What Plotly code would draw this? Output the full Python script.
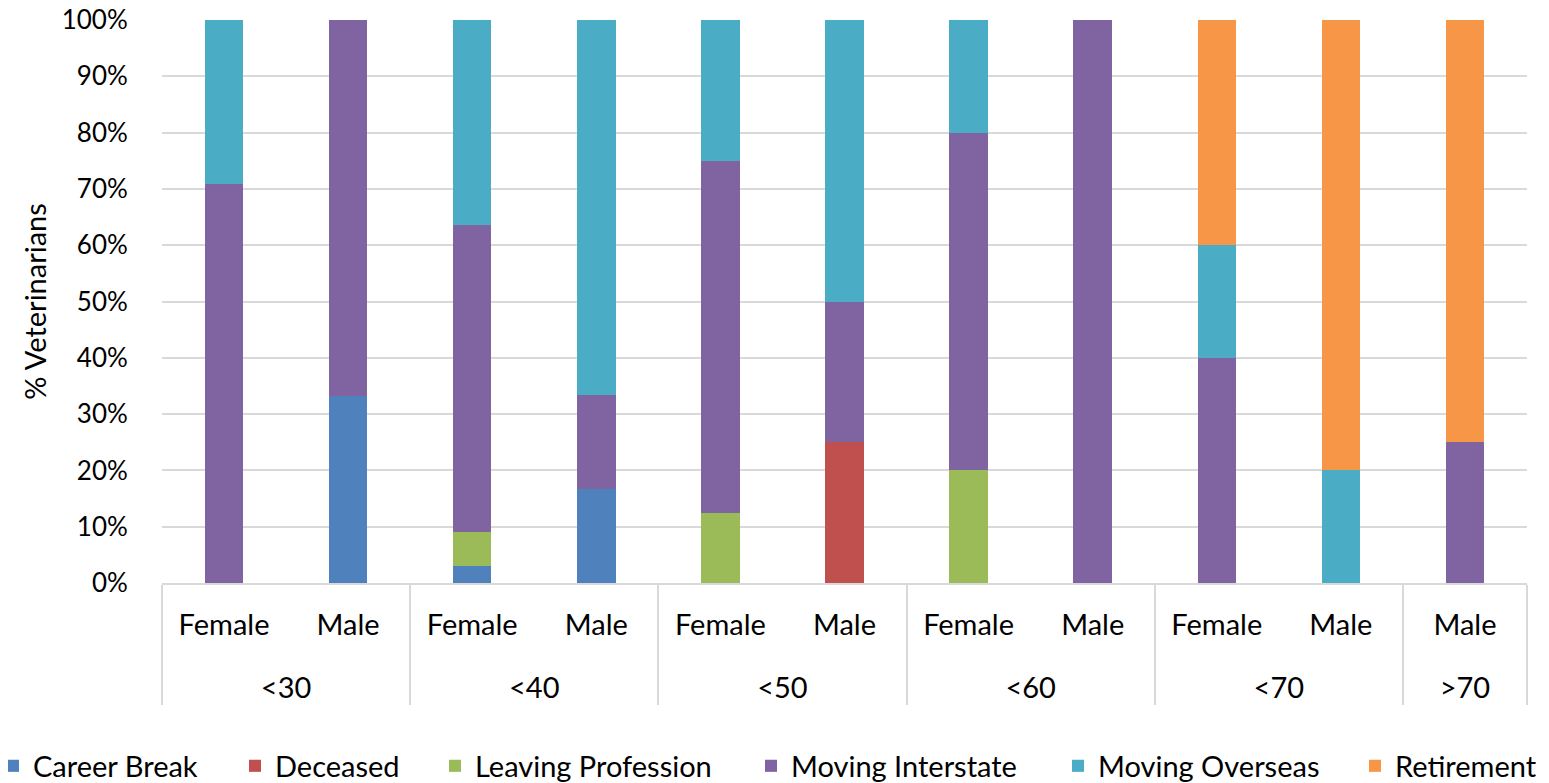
import plotly.graph_objects as go

age_groups = ["<30", "<30", "<40", "<40", "<50", "<50", "<60", "<60", "<70", "<70", ">70"]
genders = ["Female", "Male", "Female", "Male", "Female", "Male", "Female", "Male", "Female", "Male", "Male"]

career_break = [0, 33.3, 3.0, 16.7, 0, 0, 0, 0, 0, 0, 0]
deceased = [0, 0, 0, 0, 0, 25.0, 0, 0, 0, 0, 0]
leaving_profession = [0, 0, 6.1, 0, 12.5, 0, 20.0, 0, 0, 0, 0]
moving_interstate = [70.8, 66.7, 54.5, 16.7, 62.5, 25.0, 60.0, 100.0, 40.0, 0, 25.0]
moving_overseas = [29.2, 0, 36.4, 66.6, 25.0, 50.0, 20.0, 0, 20.0, 20.0, 0]
retirement = [0, 0, 0, 0, 0, 0, 0, 0, 40.0, 80.0, 75.0]

series = [
    ("Career Break", career_break, "#4f81bd"),
    ("Deceased", deceased, "#c0504d"),
    ("Leaving Profession", leaving_profession, "#9bbb59"),
    ("Moving Interstate", moving_interstate, "#8064a2"),
    ("Moving Overseas", moving_overseas, "#4bacc6"),
    ("Retirement", retirement, "#f79646"),
]

font = "Lato, Calibri, 'Open Sans', sans-serif"
LBL = 29  # label font size

# the page has an 8px body margin; figure is sized to fit the window
W, H = 1541, 775
ML, MR, MT, MB = 154, 22, 12, 200
PW = W - ML - MR

# legend text start positions in the page (pixels)
legend_text_x = [35, 277, 477, 793, 1100, 1397]

def esc(s):
    return s.replace("<", "&lt;").replace(">", "&gt;")

outer = ["<br><br><span style='font-size:%dpx'>%s</span>" % (LBL, esc(a)) for a in age_groups]
inner = ["<br><span style='font-size:%dpx'>%s</span>" % (LBL, esc(g)) for g in genders]

fig = go.Figure()
layout_legends = {}
for i, (name, vals, color) in enumerate(series):
    lg = "legend" if i == 0 else f"legend{i+1}"
    fig.add_trace(go.Bar(
        x=[outer, inner], y=vals, name=name,
        marker=dict(color=color, line=dict(width=0)),
        legend=lg,
    ))
    fx = legend_text_x[i] - 50
    layout_legends[lg] = dict(
        x=(fx - ML) / PW, xanchor="left", xref="paper",
        y=(H - 758) / H, yanchor="middle", yref="container",
        font=dict(size=LBL, family=font),
        bgcolor="rgba(0,0,0,0)",
    )

fig.update_layout(
    barmode="stack",
    bargap=0.69,
    width=W, height=H,
    margin=dict(l=ML, r=MR, t=MT, b=MB, autoexpand=False),
    plot_bgcolor="white", paper_bgcolor="white",
    font=dict(family=font, size=LBL, color="#000000"),
    showlegend=True,
    xaxis=dict(
        type="multicategory",
        showline=True, linecolor="#d9d9d9", linewidth=1.5,
        showdividers=True, dividercolor="#d9d9d9", dividerwidth=1.5,
        ticks="",
        tickfont=dict(size=20, family=font),
    ),
    yaxis=dict(
        range=[0, 100], dtick=10, ticksuffix="%",
        showgrid=True, gridcolor="#d9d9d9", gridwidth=1.5,
        zeroline=False, showline=False,
        ticks="outside", ticklen=28, tickcolor="rgba(0,0,0,0)",
        tickfont=dict(size=26, family=font),
        ticklabeloverflow="allow",
        title=dict(text="% Veterinarians", font=dict(size=LBL, family=font), standoff=6),
    ),
    **layout_legends,
)

fig.write_html("out.html")
